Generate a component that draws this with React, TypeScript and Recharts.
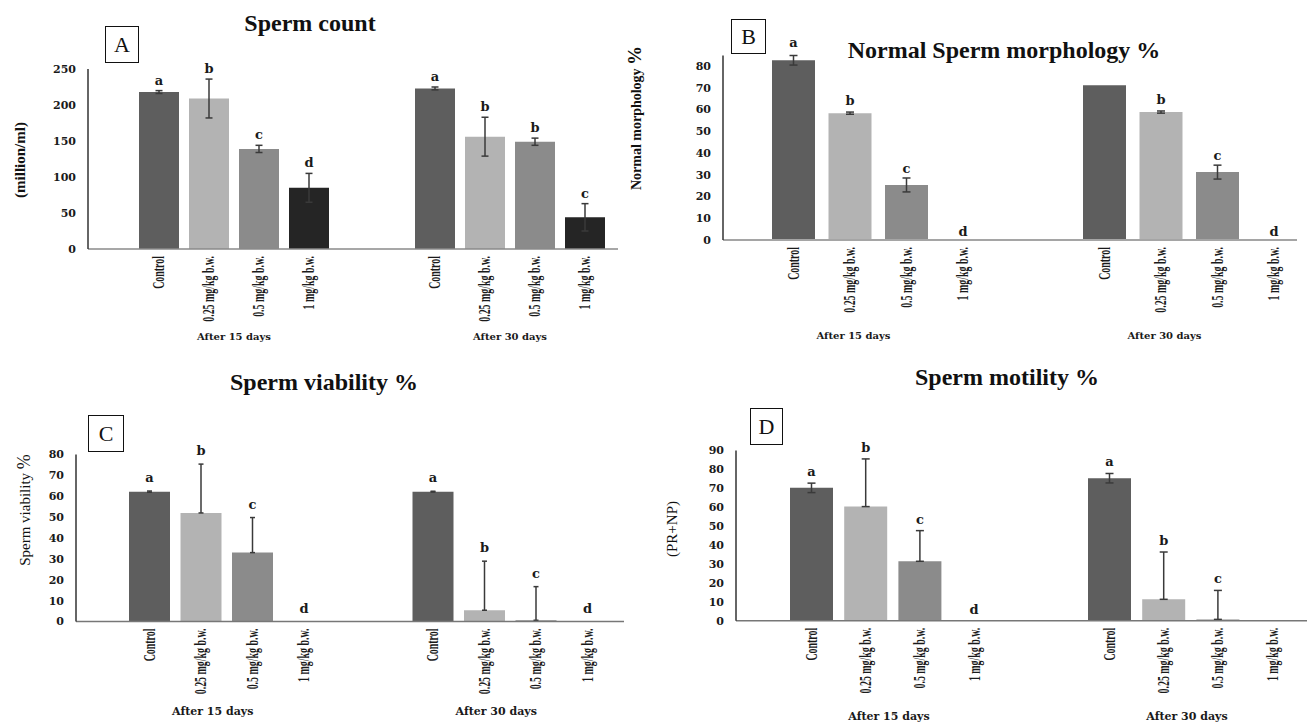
import React from 'react';
import { BarChart, Bar, XAxis, YAxis, ErrorBar, LabelList, Cell } from 'recharts';

// groups on the x axis, doses as the four series
const groups = ['After 15 days', 'After 30 days'];
const doses = ['Control', '0.25 mg/kg b.w.', '0.5 mg/kg b.w.', '1 mg/kg b.w.'];
const doseColors = ['#5e5e5e', '#b3b3b3', '#8b8b8b', '#252525'];

// A - sperm count (million/ml)
const countMeans = [[218, 209, 139, 85], [223, 156, 149, 44]];
const countErr = [[2, 27, 5, 20], [2, 27, 5, 19]];
const countLetters = [['a', 'b', 'c', 'd'], ['a', 'b', 'b', 'c']];
const countTicks = [0, 50, 100, 150, 200, 250];

// B - normal morphology %
const morphMeans = [[82.6, 58.3, 25.3, 0], [71.1, 58.8, 31.2, 0]];
const morphErr = [[2.2, 0.5, 3.2, 0], [0, 0.5, 3.2, 0]];
const morphLetters = [['a', 'b', 'c', 'd'], ['', 'b', 'c', 'd']];
const morphTicks = [0, 10, 20, 30, 40, 50, 60, 70, 80];

// C - viability %
const viabMeans = [[62.2, 52, 33, 0], [62.2, 5.4, 0.6, 0]];
const viabErrLow = [[0.3, 0, 0, 0], [0.2, 0, 0, 0]];
const viabErrUp = [[0.3, 23.4, 16.8, 0], [0.2, 23.5, 16.1, 0]];
const viabLetters = [['a', 'b', 'c', 'd'], ['a', 'b', 'c', 'd']];
const viabTicks = [0, 10, 20, 30, 40, 50, 60, 70, 80];

// D - motility % (PR+NP)
const motMeans = [[70.2, 60.3, 31.4, 0], [75.3, 11.3, 0.7, 0]];
const motErrLow = [[2.5, 0, 0, 0], [2.5, 0, 0, 0]];
const motErrUp = [[2.5, 25.2, 16.2, 0], [2.5, 25, 15.3, 0]];
const motLetters = [['a', 'b', 'c', 'd'], ['a', 'b', 'c', '']];
const motTicks = [0, 10, 20, 30, 40, 50, 60, 70, 80, 90];

const SERIF = '"Liberation Serif", "Times New Roman", serif';
const WIDE = '"DejaVu Serif", serif';

const buildRows = (means: number[][], low: number[][], up: number[][]) =>
    groups.map((g, gi) => {
        const row: any = { group: g };
        doses.forEach((_, di) => {
            row['v' + di] = means[gi][di];
            const lo = low[gi][di];
            const hi = up[gi][di];
            row['e' + di] = lo || hi ? [lo, hi] : null;
        });
        return row;
    });

interface PanelCfg {
    left: number; top: number; width: number; height: number;
    yAxisX: number; plotTop: number; plotH: number; yMax: number; ticks: number[];
    padLeft: number; barSize: number; barGap: number; cap: number; gap: number;
    groupDx: number; groupDy: number; groupFont: number;
    baseColor: string; baseWidth: number; baseLen: number;
}

function Panel({ cfg, means, low, up, letters }: { cfg: PanelCfg; means: number[][]; low: number[][]; up: number[][]; letters: string[][] }) {
    const rows = buildRows(means, low, up);
    const k = cfg.plotH / cfg.yMax;
    const marginTop = cfg.plotTop - cfg.top;
    const xAxisH = cfg.height - marginTop - cfg.plotH;

    return (
        <div style={{ position: 'absolute', left: cfg.left, top: cfg.top }}>
            <BarChart
                width={cfg.width}
                height={cfg.height}
                data={rows}
                margin={{ top: marginTop, right: 0, bottom: 0, left: 0 }}
                barGap={cfg.barGap}
            >
                <XAxis
                    dataKey="group"
                    height={xAxisH}
                    padding={{ left: cfg.padLeft, right: 0 }}
                    tickLine={false}
                    tickSize={0}
                    tickMargin={0}
                    interval={0}
                    axisLine={{ stroke: cfg.baseColor, strokeWidth: cfg.baseWidth, strokeDasharray: `${cfg.baseLen} 2000` }}
                    tick={(p: any) => (
                        <text
                            x={p.x + cfg.groupDx}
                            y={p.y + cfg.groupDy}
                            textAnchor="middle"
                            dominantBaseline="central"
                            fontFamily={WIDE}
                            fontWeight="bold"
                            fontSize={cfg.groupFont}
                            fill="#1a1a1a"
                        >
                            {p.payload.value}
                        </text>
                    )}
                />
                <YAxis
                    width={cfg.yAxisX - cfg.left}
                    domain={[0, cfg.yMax]}
                    ticks={cfg.ticks}
                    interval={0}
                    tickLine={false}
                    tickMargin={6}
                    axisLine={{ stroke: '#333', strokeWidth: 1.5 }}
                    tick={{ fontFamily: WIDE, fontWeight: 'bold', fontSize: 11, fill: '#1a1a1a' }}
                />
                {doses.map((d, di) => (
                    <Bar
                        key={d}
                        dataKey={'v' + di}
                        name={d}
                        fill={doseColors[di]}
                        barSize={cfg.barSize}
                        minPointSize={1}
                        isAnimationActive={false}
                    >
                        {groups.map((g, gi) => (
                            <Cell key={g} fill={means[gi][di] === 0 ? 'transparent' : doseColors[di]} />
                        ))}
                        <ErrorBar dataKey={'e' + di} width={cfg.cap} stroke="#3a3a3a" strokeWidth={1.5} direction="y" />
                        {/* significance letters */}
                        <LabelList
                            dataKey={'v' + di}
                            content={(p: any) => {
                                const vb = p.viewBox || p;
                                const gi = p.index;
                                const L = letters[gi]?.[di];
                                if (!L) return null;
                                const base = vb.y + vb.height;
                                const top = means[gi][di] + up[gi][di];
                                return (
                                    <text
                                        x={vb.x + vb.width / 2}
                                        y={base - top * k - cfg.gap}
                                        textAnchor="middle"
                                        fontFamily={WIDE}
                                        fontWeight="bold"
                                        fontSize={13}
                                        fill="#1a1a1a"
                                    >
                                        {L}
                                    </text>
                                );
                            }}
                        />
                        {/* dose names under each bar */}
                        <LabelList
                            dataKey={'v' + di}
                            content={(p: any) => {
                                const vb = p.viewBox || p;
                                const base = vb.y + vb.height;
                                const cx = vb.x + vb.width / 2;
                                return (
                                    <text
                                        transform={`translate(${cx},${base + 7}) rotate(-90) scale(0.62,1)`}
                                        textAnchor="end"
                                        dominantBaseline="central"
                                        fontFamily={SERIF}
                                        fontWeight="bold"
                                        fontSize={16}
                                        fill="#1a1a1a"
                                    >
                                        {d}
                                    </text>
                                );
                            }}
                        />
                    </Bar>
                ))}
            </BarChart>
        </div>
    );
}

const panelA: PanelCfg = {
    left: 0, top: 0, width: 648, height: 345, yAxisX: 88, plotTop: 69, plotH: 180, yMax: 250, ticks: countTicks,
    padLeft: 8, barSize: 40, barGap: 10, cap: 3.5, gap: 6, groupDx: 0, groupDy: 87, groupFont: 10,
    baseColor: '#8a8a8a', baseWidth: 1.5, baseLen: 530,
};
const panelB: PanelCfg = {
    left: 620, top: 0, width: 725, height: 345, yAxisX: 723, plotTop: 55.5, plotH: 184.5, yMax: 83, ticks: morphTicks,
    padLeft: 0, barSize: 43, barGap: 13.5, cap: 4, gap: 4, groupDx: -25, groupDy: 95, groupFont: 10,
    baseColor: '#a5a5a5', baseWidth: 2, baseLen: 574,
};
const panelC: PanelCfg = {
    left: 0, top: 440, width: 652, height: 282, yAxisX: 76, plotTop: 454.5, plotH: 167, yMax: 80, ticks: viabTicks,
    padLeft: 9, barSize: 41, barGap: 10.5, cap: 2.5, gap: 9, groupDx: -14, groupDy: 90, groupFont: 11,
    baseColor: '#777', baseWidth: 1.5, baseLen: 548,
};
const panelD: PanelCfg = {
    left: 660, top: 440, width: 680, height: 282, yAxisX: 736, plotTop: 450.4, plotH: 170.3, yMax: 90, ticks: motTicks,
    padLeft: 8, barSize: 43, barGap: 11.2, cap: 4, gap: 7, groupDx: -4, groupDy: 96, groupFont: 11,
    baseColor: '#777', baseWidth: 1.5, baseLen: 2000,
};

const Title = ({ x, y, children }: { x: number; y: number; children: React.ReactNode }) => (
    <div style={{
        position: 'absolute', left: x, top: y, transform: 'translate(-50%, -50%)',
        fontFamily: SERIF, fontWeight: 'bold', fontSize: 24, whiteSpace: 'nowrap', color: '#111',
    }}>{children}</div>
);

const Box = ({ x, y, w, h, letter }: { x: number; y: number; w: number; h: number; letter: string }) => (
    <div style={{
        position: 'absolute', left: x, top: y, width: w, height: h, boxSizing: 'border-box',
        border: '1.5px solid #111', display: 'flex', alignItems: 'center', justifyContent: 'center',
        fontFamily: SERIF, fontSize: 22, color: '#111', background: '#fff',
    }}>{letter}</div>
);

const YLabel = ({ x, y, bold, size, children }: { x: number; y: number; bold?: boolean; size: number; children: React.ReactNode }) => (
    <div style={{
        position: 'absolute', left: x, top: y, transform: 'translate(-50%, -50%) rotate(-90deg)',
        fontFamily: SERIF, fontWeight: bold ? 'bold' : 'normal', fontSize: size, whiteSpace: 'nowrap', color: '#111',
    }}>{children}</div>
);

export default function App() {
    return (
        <div style={{ position: 'absolute', left: 0, top: 0, width: 1307, height: 722, overflow: 'hidden', background: '#fff' }}>
            <Panel cfg={panelA} means={countMeans} low={countErr} up={countErr} letters={countLetters} />
            <Panel cfg={panelB} means={morphMeans} low={morphErr} up={morphErr} letters={morphLetters} />
            <Panel cfg={panelC} means={viabMeans} low={viabErrLow} up={viabErrUp} letters={viabLetters} />
            <Panel cfg={panelD} means={motMeans} low={motErrLow} up={motErrUp} letters={motLetters} />

            <Title x={310} y={23}>Sperm count</Title>
            <Title x={1004} y={50}>Normal Sperm morphology %</Title>
            <Title x={324} y={382}>Sperm viability %</Title>
            <Title x={1007} y={377}>Sperm motility %</Title>

            <Box x={105} y={26} w={34} h={37} letter="A" />
            <Box x={731} y={19} w={35} h={35} letter="B" />
            <Box x={88} y={415} w={36} h={37} letter="C" />
            <Box x={750} y={408} w={33} h={37} letter="D" />

            <YLabel x={20} y={160} bold size={15}>(million/ml)</YLabel>
            <YLabel x={635} y={118} bold size={14}>Normal morphology <span style={{ fontSize: 19 }}>%</span></YLabel>
            <YLabel x={24} y={510} size={15}>Sperm viability <span style={{ fontSize: 18 }}>%</span></YLabel>
            <YLabel x={672} y={529} size={15}>(PR+NP)</YLabel>
        </div>
    );
}
